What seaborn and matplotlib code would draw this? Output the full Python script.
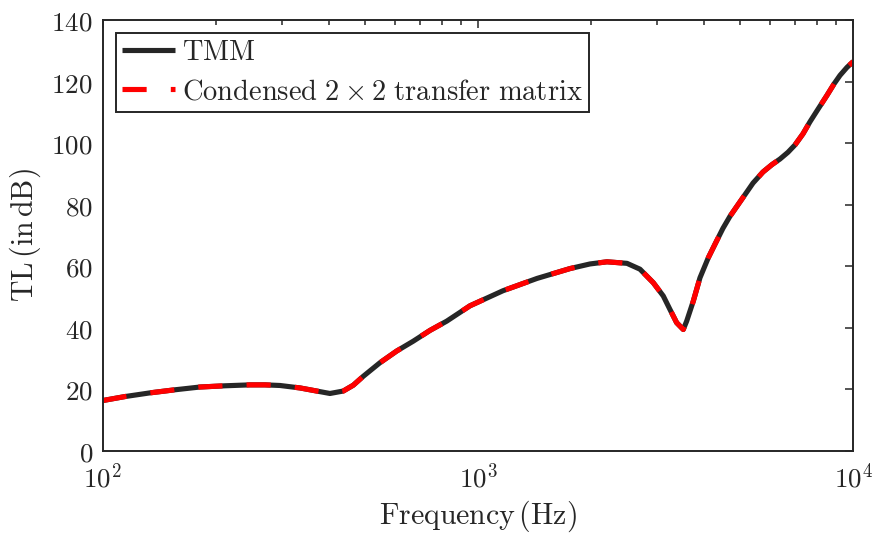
import numpy as np
import pandas as pd
import seaborn as sns
import matplotlib
matplotlib.use("Agg")
import matplotlib.pyplot as plt
from matplotlib.ticker import FixedLocator, FixedFormatter, LogLocator, NullFormatter

# Transmission loss versus frequency
freq_hz = [100, 114.7, 133.7, 155.8, 181.6, 211.8, 246.9, 270.7, 296.8, 335.6,
           379.3, 403.3, 437.7, 465.4, 494.9, 548.1, 607.4, 672.3, 744.9, 825.3,
           952.1, 1166, 1437, 1759, 1988, 2207, 2495, 2702, 2932, 3117,
           3248, 3384, 3524, 3598, 3747, 3904, 4108, 4280, 4496, 4694, 5084,
           5406, 5747, 6073, 6378, 6699, 6995, 7345, 7666, 8054, 8509,
           8884, 9218, 9621, 10000]
tl_db = [16.3, 17.6, 18.8, 19.8, 20.7, 21.1, 21.4, 21.4, 21.2, 20.4,
         19.2, 18.6, 19.4, 21.3, 24.2, 28.6, 32.4, 35.6, 39.1, 42.1,
         47.1, 52.0, 56.0, 59.2, 60.7, 61.4, 60.9, 59.0, 54.6, 50.3,
         45.9, 41.6, 39.4, 42.1, 48.6, 56.2, 62.7, 67.1, 72.3, 76.2, 82.3,
         87.0, 90.6, 93.0, 94.8, 97.0, 99.4, 103.0, 106.9, 111.0, 115.5,
         119.2, 122.0, 124.6, 126.5]

series_labels = ["TMM", "Condensed 2 × 2 transfer matrix"]
series_tex = [r"$\mathrm{TMM}$",
              r"$\mathrm{Condensed}\ 2\times 2\ \mathrm{transfer\ matrix}$"]
x_ticks = [1e2, 1e3, 1e4]
x_tick_labels = [r"$10^{2}$", r"$10^{3}$", r"$10^{4}$"]
y_ticks = [0, 20, 40, 60, 80, 100, 120, 140]
y_tick_labels = [rf"${v}$" for v in y_ticks]

df = pd.DataFrame({"freq": freq_hz, "tl": tl_db})

sns.set_theme(style="white")
plt.rcParams["mathtext.fontset"] = "cm"
plt.rcParams["font.family"] = ["serif"]
plt.rcParams["font.serif"] = ["DejaVu Serif"]

dark = "#262626"
fig = plt.figure(figsize=(8.73, 5.33), dpi=100)
ax = fig.add_axes([0.1176, 0.1544, 0.9774 - 0.1176, 0.9625 - 0.1544])

sns.lineplot(data=df, x="freq", y="tl", ax=ax, color=dark, linewidth=3.7,
             label=series_tex[0], solid_capstyle="butt", solid_joinstyle="round")
sns.lineplot(data=df, x="freq", y="tl", ax=ax, color="#ff0000", linewidth=3.7,
             label=series_tex[1], dash_capstyle="butt", dash_joinstyle="round")
ax.lines[1].set_dashes((4.7, 4.7))

ax.set_xscale("log")
ax.set_xlim(1e2, 1e4)
ax.set_ylim(0, 140)

ax.xaxis.set_major_locator(FixedLocator(x_ticks))
ax.xaxis.set_major_formatter(FixedFormatter(x_tick_labels))
ax.xaxis.set_minor_locator(LogLocator(base=10, subs=np.arange(2, 10)))
ax.xaxis.set_minor_formatter(NullFormatter())
ax.yaxis.set_major_locator(FixedLocator(y_ticks))
ax.yaxis.set_major_formatter(FixedFormatter(y_tick_labels))

ax.tick_params(which="both", direction="in", top=True, right=True,
               color=dark, width=1.1, labelcolor=dark, labelsize=19.5)
ax.tick_params(which="major", length=5.5, pad=7)
ax.tick_params(which="minor", length=3.5)
ax.tick_params(axis="x", which="major", pad=9)

for s in ax.spines.values():
    s.set_visible(True)
    s.set_color(dark)
    s.set_linewidth(1.4)

ax.set_xlabel(r"$\mathrm{Frequency\,(Hz)}$", fontsize=21.5, color=dark, labelpad=4)
ax.set_ylabel(r"$\mathrm{TL\,(in\,dB)}$", fontsize=21.5, color=dark, labelpad=6)

leg = ax.legend(loc="upper left", frameon=True, fancybox=False,
                edgecolor=dark, framealpha=1, borderpad=0.22, handlelength=1.86,
                handletextpad=0.25, labelspacing=0.42, borderaxespad=0.46,
                prop={"family": "serif", "size": 20.5})
leg.get_frame().set_linewidth(1.4)
for t in leg.get_texts():
    t.set_color(dark)

fig.savefig("out.png", dpi=100, facecolor="white")
